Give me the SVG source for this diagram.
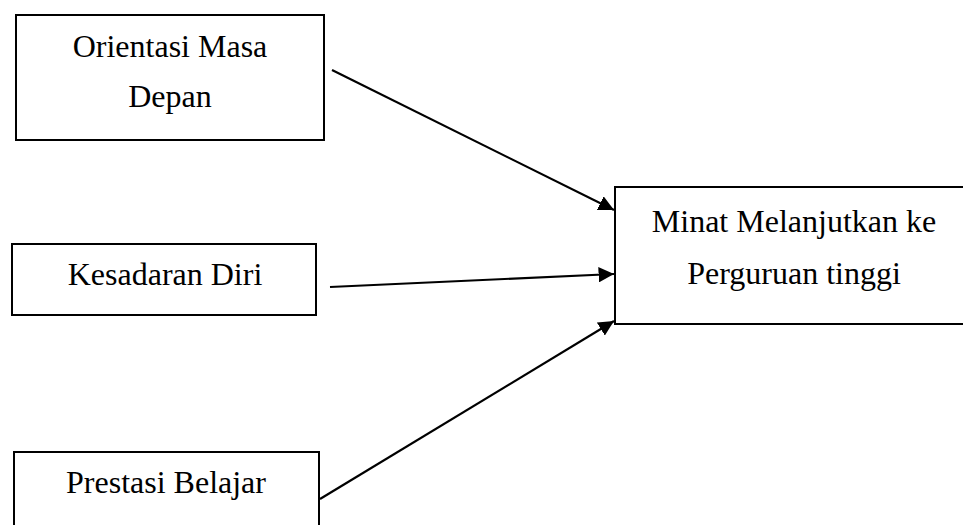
<svg xmlns="http://www.w3.org/2000/svg" width="963" height="525" viewBox="0 0 963 525">
<style>
.box{fill:#fff;stroke:#000;stroke-width:2}
.t{font-family:"Liberation Serif","Times New Roman",serif;font-size:32px;fill:#000;text-anchor:middle}
.c{stroke:#000;stroke-width:2.2;fill:none;marker-end:url(#ah)}
</style>
<defs>
<marker id="ah" viewBox="0 0 10 10" refX="10" refY="5" markerWidth="7" markerHeight="7" markerUnits="strokeWidth" orient="auto">
<path d="M0,0 L10,5 L0,10 z" fill="#000"/>
</marker>
</defs>
<rect width="963" height="525" fill="#fff"/>
<g id="n1"><rect class="box" x="16" y="15" width="308" height="125"/><text class="t" x="170" y="57">Orientasi Masa</text><text class="t" x="170" y="107">Depan</text></g>
<g id="n2"><rect class="box" x="12" y="244" width="304" height="71"/><text class="t" x="165" y="285">Kesadaran Diri</text></g>
<g id="n3"><rect class="box" x="14" y="452" width="305" height="80"/><text class="t" x="166" y="493">Prestasi Belajar</text></g>
<g id="n4"><rect class="box" x="615" y="187" width="350" height="137"/><text class="t" x="794" y="232">Minat Melanjutkan ke</text><text class="t" x="794" y="284">Perguruan tinggi</text></g>
<g id="connectors">
<line class="c" x1="332" y1="70" x2="614" y2="210"/>
<line class="c" x1="330" y1="287" x2="614" y2="274"/>
<line class="c" x1="320" y1="499" x2="614" y2="321"/>
</g>
</svg>
